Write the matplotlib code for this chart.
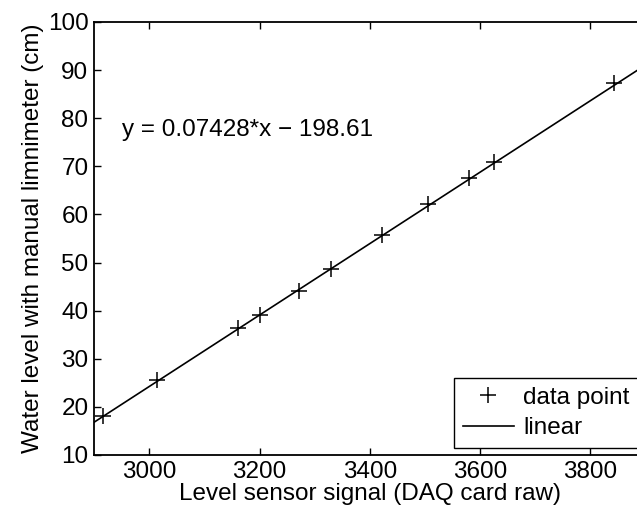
import numpy as np
import matplotlib
matplotlib.use('Agg')
import matplotlib.pyplot as plt

plt.rcParams['font.family'] = ['Liberation Sans', 'DejaVu Sans']
plt.rcParams['font.size'] = 17.5

# 数据点
signal = [2917, 3015, 3161, 3200, 3271, 3330, 3422, 3505, 3580, 3625, 3842]
level = [18.1, 25.6, 36.5, 39.2, 44.1, 48.6, 55.7, 62.1, 67.6, 70.8, 87.3]

# 线性拟合系数
slope = 0.07428
intercept = -198.61

x_ticks = [3000, 3200, 3400, 3600, 3800]
y_ticks = [10, 20, 30, 40, 50, 60, 70, 80, 90, 100]

fig = plt.figure(figsize=(6.37, 5.14), dpi=100)
ax = fig.add_axes([0.1476, 0.1148, 0.866, 0.8424])

xs = np.array([2900, 3900])
ax.plot(signal, level, '+', color='black', markersize=11, markeredgewidth=1.1, label='data point')
ax.plot(xs, slope * xs + intercept, '-', color='black', linewidth=1.2, label='linear')

ax.text(2950, 77.6, 'y = 0.07428*x \u2212 198.61', va='center', ha='left')

ax.set_xlim(2900, 3900)
ax.set_ylim(10, 100)
ax.set_xticks(x_ticks)
ax.set_yticks(y_ticks)
ax.tick_params(direction='in', top=True, right=True, length=5, width=1, pad=4)
for sp in ax.spines.values():
    sp.set_linewidth(1.3)

ax.set_xlabel('Level sensor signal (DAQ card raw)', labelpad=0)
ax.set_ylabel('Water level with manual limnimeter (cm)', labelpad=3)

leg = ax.legend(loc='lower right', fancybox=False, edgecolor='black', framealpha=1,
                handlelength=2.1, handletextpad=0.4, borderaxespad=0.3,
                borderpad=0.35, labelspacing=0.35)
leg.get_frame().set_linewidth(1.0)

plt.savefig('out.png', dpi=100)
